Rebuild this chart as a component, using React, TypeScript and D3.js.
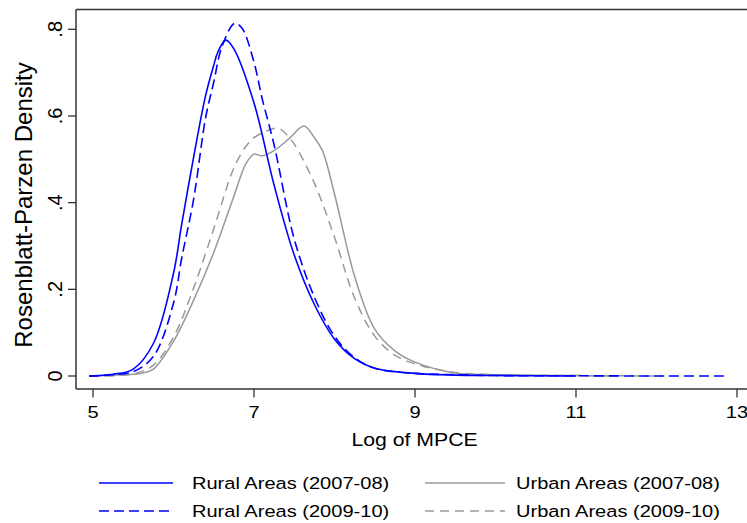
import React from "react";
import * as d3 from "d3";

// ---- data ----
const rural0708X = [4.95, 5.25, 5.5, 5.75, 6.0, 6.1, 6.25, 6.4, 6.5, 6.55, 6.65, 6.75, 7.0, 7.25, 7.5, 7.75, 8.0, 8.25, 8.5, 9.0, 9.5, 10, 11];
const rural0708Y = [0, 0.004, 0.016, 0.075, 0.237, 0.348, 0.505, 0.648, 0.717, 0.747, 0.775, 0.755, 0.63, 0.44, 0.279, 0.165, 0.085, 0.04, 0.018, 0.006, 0.002, 0.001, 0];

const rural0910X = [4.95, 5.25, 5.5, 5.75, 6.0, 6.1, 6.25, 6.4, 6.5, 6.6, 6.76, 6.85, 7.0, 7.1, 7.25, 7.5, 7.75, 8.0, 8.25, 8.5, 9.0, 9.5, 10, 11, 12, 12.9];
const rural0910Y = [0, 0.003, 0.01, 0.045, 0.168, 0.27, 0.408, 0.597, 0.678, 0.759, 0.814, 0.803, 0.724, 0.641, 0.533, 0.316, 0.182, 0.092, 0.042, 0.018, 0.006, 0.003, 0.001, 0.0005, 0, 0];

const urban0708X = [4.97, 5.5, 5.62, 5.75, 6.0, 6.25, 6.5, 6.75, 6.9, 7.0, 7.1, 7.25, 7.45, 7.62, 7.75, 7.85, 8.0, 8.25, 8.5, 8.75, 9.0, 9.5, 10, 11, 11.5];
const urban0708Y = [0, 0.004, 0.007, 0.016, 0.08, 0.175, 0.285, 0.415, 0.49, 0.512, 0.508, 0.52, 0.55, 0.577, 0.55, 0.52, 0.42, 0.23, 0.108, 0.058, 0.032, 0.007, 0.003, 0.001, 0];

const urban0910X = [4.97, 5.5, 5.75, 6.0, 6.25, 6.5, 6.75, 6.9, 7.0, 7.15, 7.3, 7.4, 7.5, 7.75, 8.0, 8.25, 8.5, 8.75, 9.0, 9.5, 10, 11, 12.1];
const urban0910Y = [0, 0.005, 0.025, 0.09, 0.203, 0.34, 0.48, 0.53, 0.55, 0.565, 0.572, 0.558, 0.535, 0.445, 0.32, 0.18, 0.092, 0.048, 0.028, 0.008, 0.003, 0.001, 0];

const xTicks = [5, 7, 9, 11, 13];
const yTicks = [0, 0.2, 0.4, 0.6, 0.8];
const yTickLabels = ["0", ".2", ".4", ".6", ".8"];
const seriesNames = ["Rural Areas (2007-08)", "Rural Areas (2009-10)", "Urban Areas (2007-08)", "Urban Areas (2009-10)"];

const W = 747;
const H = 523;
const BLUE = "#0000ff";
const GREY = "#999999";
const AXIS = "#333333";
const FONT = "'Liberation Sans', Arial, Helvetica, sans-serif";

export default function App() {
  const x = d3.scaleLinear().domain([5, 13]).range([93, 737]);
  const y = d3.scaleLinear().domain([0, 0.8]).range([376, 29.3]);
  const left = 76, top = 9.5, bottom = 389;

  const line = d3
    .line<[number, number]>()
    .x((d) => x(d[0]))
    .y((d) => y(d[1]))
    .curve(d3.curveCatmullRom.alpha(0.5));

  const zip = (xs: number[], ys: number[]) => xs.map((v, i) => [v, ys[i]] as [number, number]);

  const series = [
    { name: seriesNames[0], pts: zip(rural0708X, rural0708Y), color: BLUE, dash: undefined as string | undefined, w: 1.6 },
    { name: seriesNames[1], pts: zip(rural0910X, rural0910Y), color: BLUE, dash: "10,5", w: 1.6 },
    { name: seriesNames[2], pts: zip(urban0708X, urban0708Y), color: GREY, dash: undefined, w: 1.5 },
    { name: seriesNames[3], pts: zip(urban0910X, urban0910Y), color: GREY, dash: "9,6", w: 1.5 },
  ];

  const sx = 1.18;
  const legend = [
    { s: series[0], lx1: 99, lx2: 173, tx: 192, ty: 483 },
    { s: series[1], lx1: 99, lx2: 173, tx: 192, ty: 511 },
    { s: series[2], lx1: 425, lx2: 505, tx: 516, ty: 483 },
    { s: series[3], lx1: 425, lx2: 505, tx: 516, ty: 511 },
  ];

  return (
    <svg width={W} height={H} style={{ position: "absolute", left: 0, top: 0, background: "#fff" }} fontFamily={FONT}>
      <rect x={0} y={0} width={W} height={H} fill="#fff" />
      {/* series */}
      <g fill="none">
        {[series[2], series[3], series[0], series[1]].map((s) => (
          <path key={s.name} d={line(s.pts) || ""} stroke={s.color} strokeWidth={s.w} strokeDasharray={s.dash} />
        ))}
      </g>
      {/* frame */}
      <line x1={left} x2={W} y1={top} y2={top} stroke={AXIS} strokeWidth={1.5} />
      <line x1={left} x2={left} y1={top} y2={bottom} stroke={AXIS} strokeWidth={1.5} />
      <line x1={left} x2={W} y1={bottom} y2={bottom} stroke={AXIS} strokeWidth={1.5} />
      {/* y ticks */}
      {yTicks.map((t, i) => (
        <g key={"y" + t}>
          <line x1={68} x2={left} y1={y(t)} y2={y(t)} stroke={AXIS} strokeWidth={1.3} />
          <text transform={`translate(62,${y(t)}) rotate(-90)`} textAnchor="middle" fontSize={20} fill="#000">
            {yTickLabels[i]}
          </text>
        </g>
      ))}
      {/* x ticks */}
      {xTicks.map((t) => (
        <g key={"x" + t}>
          <line x1={x(t)} x2={x(t)} y1={bottom} y2={397.5} stroke={AXIS} strokeWidth={1.3} />
          <text transform={`translate(${x(t)},417.5) scale(${sx},1)`} textAnchor="middle" fontSize={17} fill="#000">
            {t}
          </text>
        </g>
      ))}
      {/* axis titles */}
      <text transform={`translate(414.5,446) scale(${sx},1)`} textAnchor="middle" fontSize={18} fill="#000">
        Log of MPCE
      </text>
      <text transform={`translate(32,205) rotate(-90)`} textAnchor="middle" fontSize={24} fill="#000">
        Rosenblatt-Parzen Density
      </text>
      {/* legend */}
      {legend.map((l) => (
        <g key={"lg" + l.s.name}>
          <line x1={l.lx1} x2={l.lx2} y1={l.ty} y2={l.ty} stroke={l.s.color} strokeWidth={l.s.w} strokeDasharray={l.s.dash} />
          <text transform={`translate(${l.tx},${l.ty + 6}) scale(${sx},1)`} fontSize={17} fill="#000">
            {l.s.name}
          </text>
        </g>
      ))}
    </svg>
  );
}
